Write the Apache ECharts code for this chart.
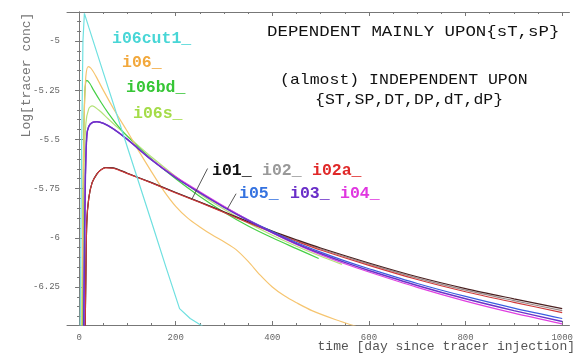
<!DOCTYPE html>
<html><head><meta charset="utf-8">
<script src="https://cdn.jsdelivr.net/npm/echarts@6/dist/echarts.min.js"></script>
<style>html,body{margin:0;padding:0;background:#fff}#c{width:576px;height:354px}</style>
</head><body><div id="c"></div>
<script>
// ---- data (time in days, value = log10 tracer concentration) ----
const i06cut1 = [[2,-6.6],[5,-5.6],[8,-5.0],[11,-4.86],[20,-4.93],[50,-5.16],[100,-5.54],[150,-5.92],[180,-6.15],[208,-6.36],[230,-6.41],[250,-6.44],[262,-6.46]];
const i06 = [[5,-6.6],[8,-5.8],[11,-5.35],[14,-5.18],[19,-5.13],[25,-5.14],[35,-5.18],[50,-5.25],[75,-5.36],[100,-5.46],[125,-5.565],[150,-5.665],[175,-5.76],[200,-5.84],[225,-5.9],[250,-5.945],[275,-5.985],[300,-6.02],[325,-6.06],[350,-6.12],[375,-6.19],[400,-6.25],[425,-6.295],[450,-6.33],[482,-6.37],[530,-6.415],[573,-6.45]];
const i06bd = [[6,-6.6],[9,-5.6],[12,-5.26],[16,-5.2],[22,-5.215],[30,-5.25],[45,-5.31],[60,-5.365],[80,-5.43],[100,-5.485],[150,-5.6],[200,-5.7],[250,-5.79],[300,-5.87],[350,-5.94],[400,-6.0],[450,-6.055],[496,-6.105]];
const i06s = [[7,-6.6],[10,-5.7],[14,-5.42],[20,-5.345],[27,-5.33],[40,-5.35],[60,-5.395],[80,-5.44],[100,-5.483],[150,-5.59],[200,-5.688],[250,-5.777],[300,-5.855],[350,-5.925],[400,-5.987],[450,-6.043],[500,-6.094],[544,-6.135]];
const i03 = [[9,-6.6],[11,-6.1],[13,-5.7],[16,-5.48],[20,-5.435],[27,-5.415],[37,-5.41],[50,-5.418],[70,-5.445],[100,-5.5],[150,-5.605],[200,-5.695],[250,-5.772],[300,-5.845],[350,-5.912],[400,-5.973],[450,-6.03],[500,-6.08],[550,-6.125],[600,-6.166],[700,-6.242],[800,-6.31],[900,-6.37],[1000,-6.425]];
const i05 = [[9,-6.6],[11,-6.1],[13,-5.7],[16,-5.48],[20,-5.435],[27,-5.415],[37,-5.41],[50,-5.418],[70,-5.445],[100,-5.5],[150,-5.604],[200,-5.693],[250,-5.77],[300,-5.842],[350,-5.908],[400,-5.968],[450,-6.024],[500,-6.073],[550,-6.117],[600,-6.157],[700,-6.232],[800,-6.298],[900,-6.357],[1000,-6.41]];
const i04 = [[9,-6.6],[11,-6.1],[13,-5.7],[16,-5.48],[20,-5.435],[27,-5.415],[37,-5.41],[50,-5.418],[70,-5.445],[100,-5.5],[150,-5.602],[200,-5.69],[250,-5.766],[300,-5.84],[350,-5.91],[400,-5.975],[450,-6.034],[500,-6.086],[550,-6.132],[600,-6.174],[700,-6.252],[800,-6.322],[900,-6.383],[1000,-6.437]];
const i01 = [[12,-6.6],[14,-6.2],[16,-5.92],[20,-5.8],[27,-5.72],[37,-5.675],[45,-5.655],[55,-5.643],[70,-5.645],[80,-5.652],[100,-5.672],[150,-5.72],[200,-5.77],[250,-5.818],[300,-5.868],[350,-5.918],[400,-5.966],[450,-6.01],[500,-6.052],[600,-6.128],[700,-6.198],[800,-6.258],[900,-6.31],[1000,-6.36]];
const i02 = [[12,-6.6],[14,-6.2],[16,-5.92],[20,-5.8],[27,-5.72],[37,-5.675],[45,-5.655],[55,-5.643],[70,-5.645],[80,-5.652],[100,-5.672],[150,-5.72],[200,-5.77],[250,-5.819],[300,-5.87],[350,-5.92],[400,-5.969],[450,-6.014],[500,-6.057],[600,-6.134],[700,-6.205],[800,-6.266],[900,-6.319],[1000,-6.37]];
const i02a = [[12,-6.6],[14,-6.2],[16,-5.92],[20,-5.8],[27,-5.72],[37,-5.676],[45,-5.656],[55,-5.645],[70,-5.647],[80,-5.654],[100,-5.674],[150,-5.722],[200,-5.772],[250,-5.821],[300,-5.872],[350,-5.923],[400,-5.972],[450,-6.018],[500,-6.062],[600,-6.14],[700,-6.212],[800,-6.274],[900,-6.328],[1000,-6.38]];
// pointer lines from labels to curves (data coords)
const ptr01 = [[266,-5.648],[233,-5.806]];
const ptr05 = [[325,-5.776],[307,-5.853]];
// ---- axes ----
const xMajor = [0,200,400,600,800,1000];
const yMajor = [-6.25,-6,-5.75,-5.5,-5.25,-5];
const xRange = [-25,1015];
const yRange = [-6.443,-4.853];
const xMinor = []; for (let v=50; v<1000; v+=50) if (v%200!==0) xMinor.push(v);
const yMinor = []; for (let k=-128; k<=-98; k++){ const v=k*0.05; if (Math.abs(v*4-Math.round(v*4))>1e-6) yMinor.push(+v.toFixed(2)); }

const axisCol = '#777';
const tickFont = {fontFamily:'Liberation Mono', fontSize:9, color:'#666', formatter:(v)=>String(v)};
function xa(pos, vals, len, line, labels){
  return {type:'value', position:pos, min:xRange[0], max:xRange[1], splitLine:{show:false},
    axisLine:{show:line, lineStyle:{color:axisCol, width:1}},
    axisTick:{show:true, inside:true, length:len, customValues:vals, lineStyle:{color:axisCol}},
    axisLabel:labels?Object.assign({show:true, customValues:vals, margin:8}, tickFont):{show:false}};
}
function ya(pos, vals, len, line, labels){
  return {type:'value', position:pos, min:yRange[0], max:yRange[1], splitLine:{show:false},
    axisLine:{show:line, lineStyle:{color:axisCol, width:1}},
    axisTick:{show:true, inside:true, length:len, customValues:vals, lineStyle:{color:axisCol}},
    axisLabel:labels?Object.assign({show:true, customValues:vals, margin:7}, tickFont):{show:false}};
}
function line(name, data, color, w, smooth){
  return {name, type:'line', data, xAxisIndex:0, yAxisIndex:0, symbol:'none', clip:true,
    smooth: smooth===undefined?0.3:smooth,
    lineStyle:{color, width:w}, itemStyle:{color}, silent:true, animation:false};
}
const series = [
  line('i06s_', i06s, '#b5e27a', 1.2),
  line('i06bd_', i06bd, '#46d046', 1.2),
  line('i06_', i06, '#f6c570', 1.2),
  line('i02_', i02, '#9a8a8a', 1.2),
  line('i01_', i01, '#4a2020', 1.2),
  line('i02a_', i02a, '#d03a3a', 1.1),
  line('i05_', i05, '#3a5ee0', 1.2),
  line('i04_', i04, '#e040e0', 1.2),
  line('i03_', i03, '#6a32c8', 1.5),
  line('i06cut1_', i06cut1, '#6fe0e0', 1.2, false),
  {type:'line', data:ptr01, xAxisIndex:0, yAxisIndex:0, symbol:'none', lineStyle:{color:'#444', width:0.9}, silent:true, animation:false},
  {type:'line', data:ptr05, xAxisIndex:0, yAxisIndex:0, symbol:'none', lineStyle:{color:'#444', width:0.9}, silent:true, animation:false}
];
function lab(text, x, y, color, size, bold, sx){
  return {type:'text', x, y, scaleX:sx||1, style:{text, fill:color, fontFamily:'Liberation Mono', fontSize:size, fontWeight:bold?'bold':'normal', align:'left', verticalAlign:'middle'}};
}
const graphic = [
  lab('i06cut1_',112,39,'#48d6d6',16.5,true),
  lab('i06_',122,63,'#f2a83c',16.5,true),
  lab('i06bd_',126,88,'#36c636',16.5,true),
  lab('i06s_',133,114,'#a4dc48',16.5,true),
  lab('i01_',212,171,'#111',16.5,true),
  lab('i02_',262,171,'#999',16.5,true),
  lab('i02a_',312,171,'#e02828',16.5,true),
  lab('i05_',239,194,'#3472e0',16.5,true),
  lab('i03_',290,194,'#6a2ec8',16.5,true),
  lab('i04_',340,194,'#e036e0',16.5,true),
  lab('DEPENDENT MAINLY UPON{sT,sP}',267,32,'#111',15,false,1.16),
  lab('(almost) INDEPENDENT UPON',280,80,'#111',15,false,1.1),
  lab('{ST,SP,DT,DP,dT,dP}',315,100,'#111',15,false,1.1),
  {type:'text', x:27, y:75, rotation:Math.PI/2, style:{text:'Log[tracer conc]', fill:'#777', fontFamily:'Liberation Mono', fontSize:13, align:'center', verticalAlign:'middle'}},
  {type:'text', x:575, y:347, style:{text:'time [day since tracer injection]', fill:'#555', fontFamily:'Liberation Mono', fontSize:13, align:'right', verticalAlign:'middle'}}
];
const chart = echarts.init(document.getElementById('c'), null, {renderer:'canvas'});
chart.setOption({
  animation:false, backgroundColor:'#fff',
  grid:{left:67, right:6, top:12, bottom:29, containLabel:false},
  xAxis:[xa('bottom',xMajor,4,true,true), xa('bottom',xMinor,2,false,false), xa('top',xMajor,4,true,false), xa('top',xMinor,2,false,false)],
  yAxis:[ya('left',yMajor,4,true,true), ya('left',yMinor,2,false,false), ya('right',yMajor,4,true,false), ya('right',yMinor,2,false,false)],
  series, graphic
});
</script></body></html>
